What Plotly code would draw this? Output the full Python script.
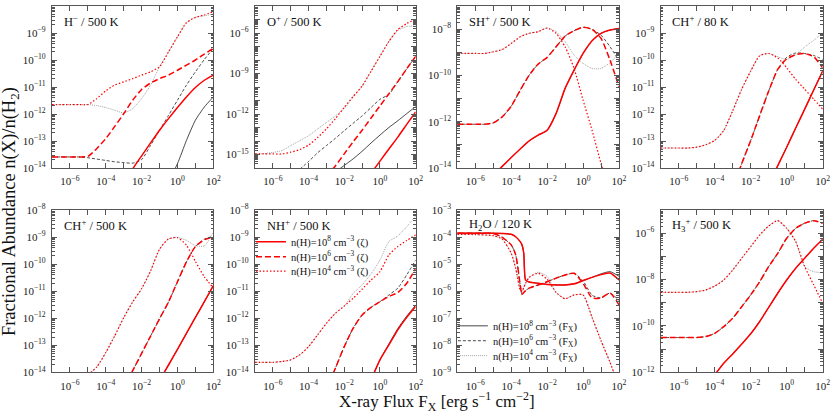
import plotly.graph_objects as go

# x-ray flux grid, log10 of erg s^-1 cm^-2
log_flux = [-7, -6.5, -6, -5.5, -5, -4.5, -4, -3.5, -3, -2.5, -2, -1.5, -1, -0.5, 0, 0.5, 1, 1.5, 2]
log_flux_h2o = [-7, -6, -5, -4.5, -4, -3.75, -3.5, -3.4, -3.3, -3.2, -3, -2.5, -2, -1.5, -1, -0.5, 0, 0.5, 1, 1.5, 2]

# abundances, log10 n(X)/n(H2)
# z = driven by zeta, f = driven by F_X ; 8/6/4 = log n(H)
hm_z8 = [None] * 8 + [-14.8, -14.04, -13.55, -13.07, -12.60, -12.17, -11.76, -11.37, -11.02, -10.75, -10.56]
hm_z6 = [-13.59] * 4 + [-13.57, -13.28, -12.91, -12.46, -11.99, -11.49, -11.09, -10.85, -10.69, -10.56, -10.38, -10.19, -10.0, -9.78, -9.57]
hm_z4 = [-11.65] * 5 + [-11.43, -11.14, -10.93, -10.81, -10.69, -10.56, -10.44, -10.25, -9.70, -9.14, -8.62, -8.42, -8.33, -8.21]
hm_f8 = [None] * 13 + [-14.5, -13.84, -12.98, -12.23, -11.74, -11.37]
hm_f6 = [-13.59] * 4 + [-13.62, -13.67, -13.72, -13.77, -13.80, -13.82, -13.69, -13.16, -12.60, -12.05, -11.49, -10.93, -10.44, -9.98, -9.57]
hm_f4 = [-11.65] * 5 + [-11.69, -11.76, -11.86, -11.96, -11.80, -11.43, -10.93, -10.25, -9.70, -9.14, -8.62, -8.42, -8.36, -8.30]

op_z8 = [None] * 13 + [-16.4, -15.49, -14.59, -13.71, -12.77, -11.84]
op_z6 = [None] * 8 + [-16.6, -15.85, -14.95, -14.05, -13.2, -12.3, -11.4, -10.5, -9.6, -8.65, -7.73]
op_z4 = [-14.96, -14.96, -14.96, -14.96, -14.83, -14.64, -14.30, -13.75, -13.10, -12.35, -11.50, -10.70, -9.93, -8.83, -7.73, -6.62, -5.75, -5.30, -4.98]
op_f8 = [None] * 9 + [-16.3, -15.81, -15.32, -14.76, -14.15, -13.56, -13.0, -12.50, -11.97, -11.45]
op_f6 = [None] * 5 + [-16.1, -15.52, -14.88, -14.34, -13.80, -13.24, -12.68, -12.14, -11.52, -10.91, -10.55, -9.6, -8.65, -7.73]
op_f4 = [-14.96, -14.93, -14.85, -14.71, -14.34, -13.98, -13.61, -13.12, -12.63, -12.14, -11.60, -10.72, -9.93, -8.83, -7.73, -6.62, -5.81, -5.52, -5.47]

sh_z8 = [None] * 4 + [-14.32, -13.93, -13.55, -13.18, -12.83, -12.58, -12.37, -11.64, -10.56, -9.77, -9.05, -8.50, -8.18, -8.04, -7.97]
sh_z6 = [-12.11, -12.11, -12.11, -12.11, -12.05, -11.79, -11.33, -10.64, -9.99, -9.51, -9.22, -8.76, -8.30, -8.07, -7.92, -8.01, -8.40, -9.34, -10.49]
sh_z4 = [-9.05, -9.05, -9.05, -9.05, -8.98, -8.88, -8.62, -8.33, -8.18, -8.11, -7.95, -8.18, -8.76, -9.70, -11.07, -12.37, -13.81, -15.11, None]
sh_f8 = sh_z8
sh_f6 = [-12.11, -12.11, -12.11, -12.11, -12.05, -11.79, -11.33, -10.64, -9.99, -9.51, -9.22, -8.76, -8.30, -8.07, -7.92, -8.01, -8.26, -8.76, -9.37]
sh_f4 = [-9.05, -9.05, -9.05, -9.05, -8.98, -8.88, -8.62, -8.33, -8.18, -8.11, -7.95, -8.11, -8.54, -9.12, -9.48, -9.70, -9.70, -9.45, -9.05]

c80_z8 = [None] * 12 + [-14.63, -13.92, -13.23, -12.52, -11.82, -11.11, -10.41]
c80_z6 = [None] * 8 + [-14.76, -13.84, -12.98, -12.06, -11.15, -10.35, -9.96, -9.80, -9.76, -9.88, -10.29]
c80_z4 = [-13.26, -13.26, -13.26, -13.26, -13.23, -13.14, -12.98, -12.61, -11.88, -11.08, -10.41, -9.84, -9.76, -9.92, -10.29, -10.72, -11.08, -11.45, -11.82]
c80_f8 = c80_z8
c80_f6 = [None] * 8 + [-14.76, -13.84, -12.98, -12.06, -11.15, -10.35, -9.90, -9.74, -9.76, -9.83, -9.98]
c80_f4 = [-13.26, -13.26, -13.26, -13.26, -13.23, -13.14, -12.98, -12.61, -11.88, -11.08, -10.41, -9.84, -9.76, -9.88, -9.98, -9.80, -9.52, -9.27, -9.0]

c5_z8 = [None] * 12 + [-14.3, -13.73, -13.15, -12.56, -11.97, -11.39, -10.8]
c5_z6 = [None] * 8 + [-14.6, -13.94, -13.30, -12.66, -12.02, -11.40, -10.65, -9.92, -9.35, -9.10, -9.0]
c5_z4 = [None] * 4 + [-14.1, -13.8, -13.27, -12.65, -11.98, -11.40, -10.91, -10.25, -9.45, -9.07, -9.02, -9.30, -9.90, -10.47, -10.88]
c5_f8 = c5_z8
c5_f6 = [None] * 8 + [-14.6, -13.94, -13.30, -12.66, -12.02, -11.40, -10.65, -9.92, -9.35, -9.08, -8.97]
c5_f4 = [None] * 4 + [-14.1, -13.8, -13.27, -12.65, -11.98, -11.40, -10.91, -10.25, -9.45, -9.07, -9.02, -9.12, -9.32, -9.33, -8.80]

nh_z8 = [None] * 13 + [-14.28, -13.54, -12.99, -12.43, -11.97, -11.57]
nh_z6 = [None] * 8 + [-14.65, -13.85, -13.05, -12.37, -11.88, -11.60, -11.39, -11.20, -11.05, -10.71, -10.16]
nh_z4 = [-13.63, -13.63, -13.63, -13.60, -13.54, -13.36, -13.05, -12.62, -12.19, -11.82, -11.55, -11.26, -10.93, -10.59, -10.28, -9.66, -9.35, -9.13, -8.92]
nh_f8 = [None] * 13 + [-14.28, -13.54, -12.95, -12.38, -11.92, -11.52]
nh_f6 = [None] * 8 + [-14.65, -13.85, -13.05, -12.37, -11.88, -11.60, -11.39, -11.14, -10.89, -10.40, -9.85]
nh_f4 = [-13.63, -13.63, -13.63, -13.60, -13.54, -13.36, -13.05, -12.62, -12.19, -11.82, -11.55, -11.08, -10.77, -10.36, -9.85, -9.17, -8.96, -8.62, -8.22]

h2o_z8 = [-3.86, -3.86, -3.86, -3.87, -3.90, -3.99, -4.17, -4.29, -4.60, -5.59, -5.66, -5.71, -5.75, -5.77, -5.77, -5.73, -5.61, -5.49, -5.39, -5.33, -5.59]
h2o_z6 = [-3.86, -3.86, -3.87, -4.01, -4.29, -4.66, -5.77, -6.12, -6.05, -5.98, -5.89, -5.77, -5.65, -5.52, -5.40, -5.34, -5.71, -6.25, -6.25, -6.07, -6.51]
h2o_z4 = [-3.90, -3.91, -3.95, -4.08, -4.60, -5.16, -5.96, -6.02, -5.86, -5.71, -5.49, -5.34, -5.56, -6.05, -6.28, -6.14, -6.14, -6.97, -7.83, -8.63, -9.53]
h2o_f8 = [-3.86, -3.86, -3.86, -3.87, -3.90, -3.99, -4.17, -4.29, -4.60, -5.59, -5.66, -5.71, -5.75, -5.77, -5.77, -5.73, -5.61, -5.49, -5.36, -5.28, -5.45]
h2o_f6 = [-3.86, -3.86, -3.87, -4.01, -4.29, -4.66, -5.77, -6.12, -6.05, -5.98, -5.89, -5.77, -5.65, -5.52, -5.40, -5.34, -5.62, -6.15, -6.25, -6.07, -6.35]
h2o_f4 = [-3.90, -3.91, -3.95, -4.08, -4.60, -5.16, -5.96, -6.02, -5.86, -5.71, -5.49, -5.30, -5.45, -6.05, -6.28, -6.14, -6.14, -6.97, -7.83, -8.63, -9.53]

h3_z8 = [None] * 5 + [-12.6, -12.11, -11.61, -11.21, -10.78, -10.34, -9.81, -9.20, -8.59, -8.02, -7.51, -7.08, -6.65, -6.26]
h3_z6 = [-10.50, -10.50, -10.50, -10.50, -10.50, -10.46, -10.32, -10.03, -9.67, -9.17, -8.66, -8.09, -7.44, -6.87, -6.22, -5.79, -5.57, -5.46, -5.57]
h3_z4 = [-8.55, -8.55, -8.55, -8.55, -8.52, -8.45, -8.28, -8.02, -7.59, -7.08, -6.58, -6.08, -5.69, -5.46, -5.79, -6.36, -7.44, -8.23, -9.02]
h3_f8 = h3_z8
h3_f6 = h3_z6
h3_f4 = [-8.55, -8.55, -8.55, -8.55, -8.52, -8.45, -8.28, -8.02, -7.59, -7.08, -6.58, -6.08, -5.69, -5.46, -5.79, -6.36, -7.45, -7.66, -7.70]

# panel title, x grid, curves, y range (log), labelled decades
panels = [
    ("H<sup>−</sup> / 500 K", log_flux, [hm_f8, hm_f6, hm_f4, hm_z8, hm_z6, hm_z4], (-14, -8), list(range(-14, -7))),
    ("O<sup>+</sup> / 500 K", log_flux, [op_f8, op_f6, op_f4, op_z8, op_z6, op_z4], (-16, -4), [-15, -12, -9, -6]),
    ("SH<sup>+</sup> / 500 K", log_flux, [sh_f8, sh_f6, sh_f4, sh_z8, sh_z6, sh_z4], (-14, -7), [-14, -12, -10, -8]),
    ("CH<sup>+</sup> / 80 K", log_flux, [c80_f8, c80_f6, c80_f4, c80_z8, c80_z6, c80_z4], (-14, -8), list(range(-14, -7))),
    ("CH<sup>+</sup> / 500 K", log_flux, [c5_f8, c5_f6, c5_f4, c5_z8, c5_z6, c5_z4], (-14, -8), list(range(-14, -7))),
    ("NH<sup>+</sup> / 500 K", log_flux, [nh_f8, nh_f6, nh_f4, nh_z8, nh_z6, nh_z4], (-14, -8), list(range(-14, -7))),
    ("H<sub>2</sub>O / 120 K", log_flux_h2o, [h2o_f8, h2o_f6, h2o_f4, h2o_z8, h2o_z6, h2o_z4], (-9, -3), list(range(-9, -2))),
    ("H<sub>3</sub><sup>+</sup> / 500 K", log_flux, [h3_f8, h3_f6, h3_f4, h3_z8, h3_z6, h3_z4], (-12, -5), [-12, -10, -8, -6]),
]

keys = ["f8", "f6", "f4", "z8", "z6", "z4"]
styles = {
    "z8": dict(color="#ff0000", width=1.5, dash="solid"),
    "z6": dict(color="#ff0000", width=1.5, dash="6px,3px"),
    "z4": dict(color="#ff0000", width=1.2, dash="1.5px,2px"),
    "f8": dict(color="#1a1a1a", width=0.8, dash="solid"),
    "f6": dict(color="#1a1a1a", width=0.8, dash="3px,2px"),
    "f4": dict(color="#8c8c8c", width=0.8, dash="1px,1px"),
}
names = {
    "z8": "n(H)=10<sup>8</sup> cm<sup>−3</sup> (ζ)",
    "z6": "n(H)=10<sup>6</sup> cm<sup>−3</sup> (ζ)",
    "z4": "n(H)=10<sup>4</sup> cm<sup>−3</sup> (ζ)",
    "f8": "n(H)=10<sup>8</sup> cm<sup>−3</sup> (F<sub>X</sub>)",
    "f6": "n(H)=10<sup>6</sup> cm<sup>−3</sup> (F<sub>X</sub>)",
    "f4": "n(H)=10<sup>4</sup> cm<sup>−3</sup> (F<sub>X</sub>)",
}
# one small legend per entry so the rows sit as tight as in the paper figure
legend_ids = {"z8": "legend", "z6": "legend2", "z4": "legend3",
              "f8": "legend4", "f6": "legend5", "f4": "legend6"}
legend_pos = {"z8": (0.302, 0.416), "z6": (0.302, 0.380), "z4": (0.302, 0.345),
              "f8": (0.545, 0.213), "f6": (0.545, 0.177), "f4": (0.545, 0.141)}

col_dom = [(0.0626, 0.2567), (0.3069, 0.5002), (0.5503, 0.7449), (0.7951, 0.9900)]
row_dom = [(0.5942, 0.9855), (0.1007, 0.4928)]

FONT = "Liberation Serif, Times New Roman, serif"
FRAME = "#555555"


def exp_label(p):
    return "10<sup>" + str(p).replace("-", "−") + "</sup>"


def to_lin(vals):
    return [None if v is None else 10 ** v for v in vals]


fig = go.Figure()
layout = {}
annotations = []

for i, (title, xs, curves, yr, ylab) in enumerate(panels):
    n = i + 1
    sfx = "" if n == 1 else str(n)
    xa, ya = "x" + sfx, "y" + sfx

    for key, vals in zip(keys, curves):
        show = (n == 6 and key.startswith("z")) or (n == 7 and key.startswith("f"))
        fig.add_trace(go.Scatter(
            x=to_lin(xs), y=to_lin(vals), mode="lines",
            line=dict(shape="spline", smoothing=0.6, **styles[key]),
            name=names[key], showlegend=show, legend=legend_ids[key],
            xaxis=xa, yaxis=ya, hoverinfo="skip",
        ))

    r, c = divmod(i, 4)
    common = dict(
        showline=True, linecolor=FRAME, linewidth=1.2, mirror="ticks",
        ticks="inside", ticklen=5, tickcolor=FRAME, tickwidth=1,
        showgrid=False, zeroline=False, automargin=False,
        tickfont=dict(family=FONT, size=11, color="#222"),
    )
    xlab = [-6, -4, -2, 0, 2]
    layout["xaxis" + sfx] = dict(
        common, type="log", range=[-7, 2], domain=col_dom[c], anchor=ya,
        tickvals=[10 ** p for p in xlab], ticktext=[exp_label(p) for p in xlab],
        minor=dict(ticks="inside", ticklen=5, tickcolor=FRAME, showgrid=False,
                   tickvals=[10 ** p for p in [-7, -5, -3, -1, 1]]),
        ticklabelstandoff=3,
    )
    yticks = list(range(yr[0], yr[1] + 1))
    layout["yaxis" + sfx] = dict(
        common, type="log", range=list(yr), domain=row_dom[r], anchor=xa,
        tickvals=[10 ** p for p in yticks],
        ticktext=[exp_label(p) if p in ylab else "" for p in yticks],
        minor=dict(ticks="inside", ticklen=2.5, tickcolor=FRAME, dtick="D1", showgrid=False),
        ticklabelstandoff=3,
    )
    annotations.append(dict(
        text=title, xref=xa + " domain", yref=ya + " domain", x=0.06, y=0.905,
        xanchor="left", yanchor="middle", showarrow=False,
        font=dict(family=FONT, size=12.5, color="#111"),
    ))

annotations.append(dict(
    text="Fractional Abundance n(X)/n(H<sub>2</sub>)", xref="paper", yref="paper",
    x=0.012, y=0.49, textangle=-90, showarrow=False, xanchor="center", yanchor="middle",
    font=dict(family=FONT, size=18.5, color="#111"),
))
annotations.append(dict(
    text="X-ray Flux F<sub>X</sub> [erg s<sup>−1</sup> cm<sup>−2</sup>]", xref="paper", yref="paper",
    x=0.526, y=0.031, showarrow=False, xanchor="center", yanchor="middle",
    font=dict(family=FONT, size=17, color="#111"),
))

for key, lid in legend_ids.items():
    lx, ly = legend_pos[key]
    layout[lid] = dict(
        x=lx, y=ly, xanchor="left", yanchor="middle",
        bgcolor="rgba(0,0,0,0)", borderwidth=0, itemwidth=30,
        font=dict(family=FONT, size=10.5, color="#111"),
    )

fig.update_layout(
    width=831, height=414,
    margin=dict(l=0, r=0, t=0, b=0, autoexpand=False),
    paper_bgcolor="white", plot_bgcolor="white",
    annotations=annotations,
    font=dict(family=FONT),
    **layout,
)

# the page's default 8px body margin would push the 831x414 figure off the window
fig.write_html("out.html", config={"displayModeBar": False},
               post_script="document.body.style.margin = '0px';")
